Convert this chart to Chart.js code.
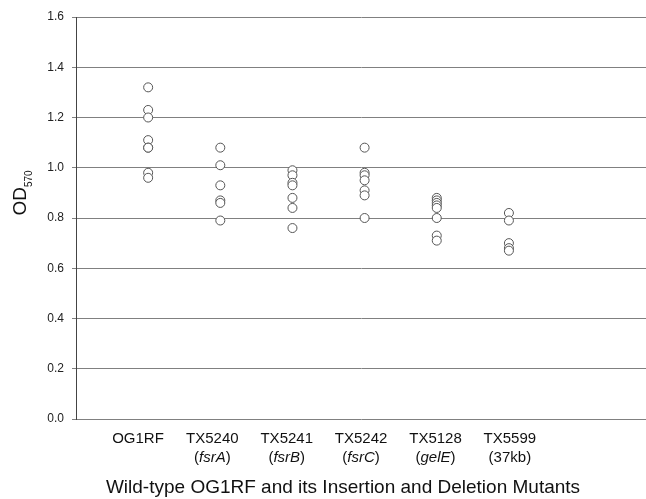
<!DOCTYPE html>
<html>
<head>
<meta charset="utf-8">
<script src="https://cdn.jsdelivr.net/npm/chart.js@4.4.0/dist/chart.umd.min.js"></script>
<style>
  html, body { margin: 0; padding: 0; background: #fff; overflow: hidden; }
  #wrap { width: 646px; height: 499px; }
</style>
</head>
<body>
<div id="wrap"><canvas id="chart1"></canvas></div>
<script>
// strains on the x axis and the note under each one
var strains = ["OG1RF", "TX5240", "TX5241", "TX5242", "TX5128", "TX5599"];
var notes = ["", "fsrA", "fsrB", "fsrC", "gelE", "37kb"];
var noteItalic = [false, true, true, true, true, false];

// OD570 readings per strain
var og1rf = [1.32, 1.23, 1.20, 1.11, 1.08, 1.08, 0.98, 0.96];
var tx5240 = [1.08, 1.01, 0.93, 0.87, 0.86, 0.79];
var tx5241 = [0.99, 0.97, 0.94, 0.93, 0.88, 0.84, 0.76];
var tx5242 = [1.08, 0.98, 0.97, 0.95, 0.91, 0.89, 0.80];
var tx5128 = [0.88, 0.87, 0.86, 0.85, 0.84, 0.80, 0.73, 0.71];
var tx5599 = [0.82, 0.79, 0.70, 0.68, 0.67];

var yTicks = [0, 0.2, 0.4, 0.6, 0.8, 1.0, 1.2, 1.4, 1.6];

var groups = [og1rf, tx5240, tx5241, tx5242, tx5128, tx5599];
var points = [];
groups.forEach(function(g, i) {
  g.forEach(function(v) { points.push({x: i + 1, y: v}); });
});

var FONT = "'Liberation Sans', Arial, sans-serif";

// strain names + notes under the axis, the axis title and the OD570 title
var labelsPlugin = {
  id: "labels",
  afterDraw: function(chart) {
    var ctx = chart.ctx;
    var xs = chart.scales.xl;
    ctx.save();
    ctx.fillStyle = "#111";
    ctx.textBaseline = "middle";
    strains.forEach(function(s, i) {
      var px = xs.getPixelForValue(i + 1);
      ctx.textAlign = "center";
      ctx.font = "15px " + FONT;
      ctx.fillText(s, px, 439);
      if (notes[i]) {
        var inner = notes[i];
        var it = (noteItalic[i] ? "italic " : "") + "15px " + FONT;
        ctx.font = "15px " + FONT;
        var wp = ctx.measureText("(").width;
        var wq = ctx.measureText(")").width;
        ctx.font = it;
        var wi = ctx.measureText(inner).width;
        var x0 = px - (wp + wi + wq) / 2;
        ctx.textAlign = "left";
        ctx.font = "15px " + FONT;
        ctx.fillText("(", x0, 458);
        ctx.font = it;
        ctx.fillText(inner, x0 + wp, 458);
        ctx.font = "15px " + FONT;
        ctx.fillText(")", x0 + wp + wi, 458);
      }
    });

    ctx.textAlign = "center";
    ctx.font = "19px " + FONT;
    ctx.fillText("Wild-type OG1RF and its Insertion and Deletion Mutants", 343, 488);

    // y title OD with subscript 570
    ctx.translate(20, 193);
    ctx.rotate(-Math.PI / 2);
    ctx.textBaseline = "alphabetic";
    ctx.textAlign = "left";
    ctx.font = "19px " + FONT;
    var w1 = ctx.measureText("OD").width;
    ctx.font = "10px " + FONT;
    var w2 = ctx.measureText("570").width;
    var sx = -(w1 + w2) / 2;
    ctx.font = "19px " + FONT;
    ctx.fillText("OD", sx, 6);
    ctx.font = "10px " + FONT;
    ctx.fillText("570", sx + w1, 12);
    ctx.restore();
  }
};

new Chart(document.getElementById("chart1"), {
  type: "scatter",
  data: {
    datasets: [{
      data: points,
      pointRadius: 4.5,
      pointHoverRadius: 4.5,
      pointBackgroundColor: "#fff",
      pointBorderColor: "#555",
      pointBorderWidth: 1
    }]
  },
  options: {
    responsive: true,
    maintainAspectRatio: false,
    animation: false,
    layout: { autoPadding: false, padding: { top: 17, right: 0, left: 0, bottom: 0 } },
    plugins: {
      legend: { display: false },
      tooltip: { enabled: false }
    },
    scales: {
      x: {
        type: "linear",
        min: 0,
        max: 7.9,
        grid: { display: false },
        border: { display: false },
        ticks: { display: false },
        afterFit: function(s) { s.height = 80; }
      },
      // hidden axis that spaces the strain labels a little wider than the points
      xl: {
        type: "linear",
        position: "bottom",
        display: false,
        min: 0.167,
        max: 7.83
      },
      y: {
        min: 0,
        max: 1.6,
        afterBuildTicks: function(s) {
          s.ticks = yTicks.map(function(v) { return {value: v}; });
        },
        grid: { color: "#808080", lineWidth: 1, tickLength: 4 },
        border: { display: true, color: "#444", width: 1 },
        ticks: {
          color: "#222",
          padding: 8,
          font: { family: FONT, size: 12 },
          callback: function(v) { return Number(v).toFixed(1); }
        },
        afterFit: function(s) { s.width = 76; }
      }
    }
  },
  plugins: [labelsPlugin]
});
</script>
</body>
</html>
